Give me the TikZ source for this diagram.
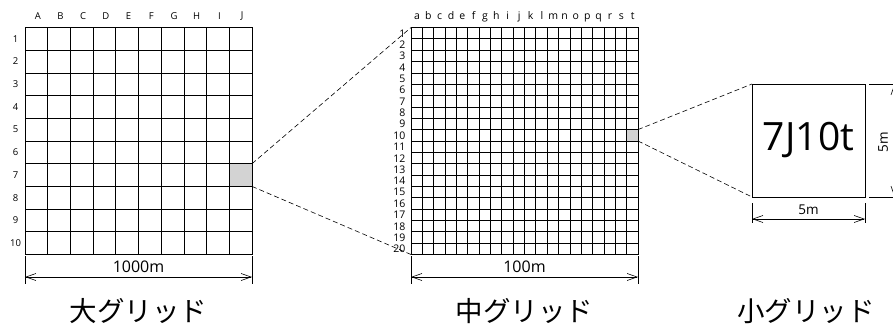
\documentclass[tikz,border=0pt]{standalone}
\usepackage{fontspec}
\setmainfont{Open Sans}
\newfontfamily\jpfont{Noto Sans CJK JP}
\usetikzlibrary{arrows.meta}
\definecolor{cellgray}{HTML}{D3D3D3}
\tikzset{
  gridbox/.style={draw, line width=0.9pt, inner sep=0, outer sep=0},
  gline/.style={line width=0.8pt},
  conn/.style={dashed, dash pattern=on 5pt off 3pt, line width=0.6pt},
  dimline/.style={line width=0.6pt, {Straight Barb[length=10pt,width=7pt]}-{Straight Barb[length=10pt,width=7pt]}},
  dimtick/.style={line width=0.7pt},
  lbl/.style={inner sep=0, font=\fontsize{9.5}{10}\selectfont},
  mlbl/.style={inner sep=0, font=\fontsize{10.5}{10}\selectfont},
  dimtext/.style={inner sep=0, font=\fontsize{16}{17}\selectfont},
  title/.style={inner sep=0, font=\jpfont\fontsize{27.5}{28}\selectfont},
  shade/.style={fill=cellgray, draw=none, inner sep=0, outer sep=0}
}
\begin{document}
\begin{tikzpicture}[x=1pt,y=-1pt]
\useasboundingbox (0,0) rectangle (893,329);
% ---------- large grid ----------
\node[shade, minimum width=22.7pt, minimum height=22.7pt] (Lsh) at (240.65,175.05) {};
\foreach \i in {1,...,9} {
  \draw[gline] (25+\i*22.7,27.5) -- (25+\i*22.7,254.5);
  \draw[gline] (25,27.5+\i*22.7) -- (252,27.5+\i*22.7);
}
\node[gridbox, minimum size=227pt] (L) at (138.5,141) {};
\foreach \c [count=\k from 0] in {A,B,C,D,E,F,G,H,I,J}
  \node[lbl] at (37.8+\k*22.7,16) {\c};
\foreach \r [count=\k from 0] in {1,...,10}
  \node[lbl] at (15.5,38.85+\k*22.7) {\r};
% ---------- medium grid ----------
\node[shade, minimum width=11.35pt, minimum height=11.35pt] (Msh) at (632.3,135.3) {};
\foreach \i in {1,...,19} {
  \draw[gline] (411+\i*11.35,27.5) -- (411+\i*11.35,254.5);
  \draw[gline] (411,27.5+\i*11.35) -- (638,27.5+\i*11.35);
}
\node[gridbox, minimum size=227pt] (M) at (524.5,141) {};
\foreach \c [count=\k from 0] in {a,b,c,d,e,f,g,h,i,j,k,l,m,n,o,p,q,r,s,t}
  \node[mlbl, anchor=base] at (417+\k*11.35,19.5) {\c};
\foreach \r [count=\k from 0] in {1,...,20}
  \node[mlbl, anchor=east] at (405.5,33.4+\k*11.35) {\r};
% ---------- small grid ----------
\node[gridbox, minimum size=113pt, font=\fontsize{39}{40}\selectfont] (S) at (808.5,140.5) {7J10t};
% ---------- connectors ----------
\draw[conn] (Lsh.north east) -- (M.north west);
\draw[conn] (Lsh.south east) -- (M.south west);
\draw[conn] (Msh.north east) -- (S.north west);
\draw[conn] (Msh.south east) -- (S.south west);
% ---------- dimensions ----------
\coordinate (L1) at (25,256); \coordinate (L2) at (25,284);
\coordinate (L3) at (252,256); \coordinate (L4) at (252,284);
\draw[dimtick] (L1) -- (L2); \draw[dimtick] (L3) -- (L4);
\coordinate (La) at (25,277); \coordinate (Lb) at (252,277);
\draw[dimline] (La) -- (Lb);
\node[dimtext] (Ld) at (138.5,266.5) {1000m};
\coordinate (M1) at (411,256); \coordinate (M2) at (411,284);
\coordinate (M3) at (638,256); \coordinate (M4) at (638,284);
\draw[dimtick] (M1) -- (M2); \draw[dimtick] (M3) -- (M4);
\coordinate (Ma) at (411,277); \coordinate (Mb) at (638,277);
\draw[dimline] (Ma) -- (Mb);
\node[dimtext] (Md) at (524.5,266.5) {100m};
\coordinate (S1) at (752,203); \coordinate (S2) at (752,223);
\coordinate (S3) at (865,203); \coordinate (S4) at (865,223);
\draw[dimtick] (S1) -- (S2); \draw[dimtick] (S3) -- (S4);
\coordinate (Sa) at (752,219); \coordinate (Sb) at (865,219);
\draw[dimline] (Sa) -- (Sb);
\node[inner sep=0, font=\fontsize{13.5}{14}\selectfont] (Sd) at (808.5,209.5) {5m};
\coordinate (R1) at (869,84); \coordinate (R2) at (895,84);
\coordinate (R3) at (869,197); \coordinate (R4) at (895,197);
\draw[dimtick] (R1) -- (R2); \draw[dimtick] (R3) -- (R4);
\coordinate (Ra) at (894.5,84); \coordinate (Rb) at (894.5,197);
\draw[dimline] (Ra) -- (Rb);
\node[inner sep=0, rotate=90, font=\fontsize{13.5}{14}\selectfont] (Rd) at (883,142) {5m};
% ---------- titles ----------
\node[title] (Lt) at (138.5,311) {大グリッド};
\node[title] (Mt) at (524.5,311) {中グリッド};
\node[title] (St) at (806,311) {小グリッド};
\end{tikzpicture}
\end{document}
